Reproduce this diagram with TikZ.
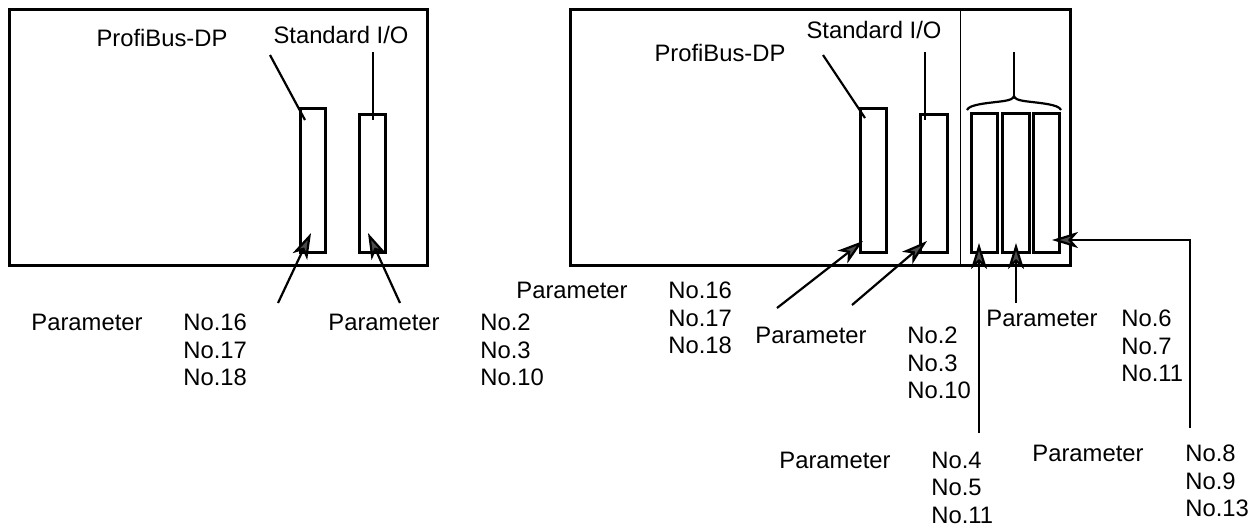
\documentclass[tikz,border=0pt]{standalone}
\usepackage{fontspec}
\setmainfont{Liberation Sans}
\usetikzlibrary{shapes, arrows.meta}
\tikzstyle{frame} = [draw=black, line width=1.5pt]
\tikzstyle{divider} = [draw=black, line width=0.5pt]
\tikzstyle{slot} = [rectangle, draw=black, line width=1.5pt, inner sep=0pt, minimum width=12.5pt]
\tikzstyle{tag} = [inner sep=0pt, font=\fontsize{11.9}{13.75}\selectfont]
\tikzstyle{numlist} = [tag, align=left, anchor=north west]
\tikzstyle{leader} = [line width=1.1pt]
\tikzstyle{edge} = [line width=1.1pt, -{Stealth[length=13pt, width=8pt, inset=3.5pt, fill=black!70]}]

\begin{document}
\begin{tikzpicture}[x=0.5pt, y=-0.5pt]
\useasboundingbox (0,0) rectangle (1258,527);

% left unit
\draw [frame] (9,9) rectangle (427,265);
\node (pbL) [slot, minimum height=72pt] at (312.5,180) {};
\node (ioL) [slot, minimum height=69pt, minimum width=13pt] at (372,183) {};
\node (pbtxtL) [tag] at (162,38) {ProfiBus-DP};
\node (iotxtL) [tag] at (341,35) {Standard I/O};
\node (parL1) [tag] at (87,322) {Parameter};
\node (nosL1) [numlist] at (183,313.6) {No.16\\No.17\\No.18};
\node (parL2) [tag] at (384,322) {Parameter};
\node (nosL2) [numlist] at (480,313.6) {No.2\\No.3\\No.10};

\coordinate (pbfromL) at (270,55);
\coordinate (pbtoL) at (305,120);
\coordinate (iofromL) at (373,52);
\coordinate (iotoL) at (373,120);
\coordinate (tailL1) at (278,303);
\coordinate (tipL1) at (311,233);
\coordinate (tailL2) at (400,303);
\coordinate (tipL2) at (368,233);

\draw [leader] (pbfromL) -- (pbtoL);
\draw [leader] (iofromL) -- (iotoL);
\draw [edge] (tailL1) -- (tipL1);
\draw [edge] (tailL2) -- (tipL2);

% right unit with extension slots
\draw [frame] (570,9) rectangle (1070,265);
\coordinate (divtop) at (960,9);
\coordinate (divbot) at (960,265);
\draw [divider] (divtop) -- (divbot);
\node (pbR) [slot, minimum height=72pt, minimum width=13pt] at (873,180) {};
\node (ioR) [slot, minimum height=69pt, minimum width=13.5pt] at (933.5,183) {};
\node (extA) [slot, minimum height=69.5pt, minimum width=13pt] at (984,182.5) {};
\node (extB) [slot, minimum height=69.5pt, minimum width=13.5pt] at (1015.5,182.5) {};
\node (extC) [slot, minimum height=69.5pt, minimum width=13pt] at (1046,182.5) {};
\node (pbtxtR) [tag] at (720,53) {ProfiBus-DP};
\node (iotxtR) [tag] at (874,30) {Standard I/O};

\node (parR1) [tag] at (572,290) {Parameter};
\node (nosR1) [numlist] at (668,281.6) {No.16\\No.17\\No.18};
\node (parR2) [tag] at (811,335) {Parameter};
\node (nosR2) [numlist] at (907,326.6) {No.2\\No.3\\No.10};
\node (parR3) [tag] at (1042,318) {Parameter};
\node (nosR3) [numlist] at (1121,309.6) {No.6\\No.7\\No.11};
\node (parR4) [tag] at (835,460) {Parameter};
\node (nosR4) [numlist] at (931,451.6) {No.4\\No.5\\No.11};
\node (parR5) [tag] at (1088,453) {Parameter};
\node (nosR5) [numlist] at (1185,444.6) {No.8\\No.9\\No.13};

\coordinate (pbfromR) at (823,55);
\coordinate (pbtoR) at (865,118);
\coordinate (iofromR) at (925,52);
\coordinate (iotoR) at (925,120);
\coordinate (braceL) at (967,110);
\coordinate (braceML) at (1004,101);
\coordinate (bracetip) at (1014,96);
\coordinate (braceMR) at (1024,101);
\coordinate (braceR) at (1061,110);
\coordinate (bracetop) at (1014,52);
\coordinate (tailR1) at (777,308);
\coordinate (tipR1) at (863,241);
\coordinate (tailR2) at (852,305);
\coordinate (tipR2) at (927,241);
\coordinate (tailA) at (979,433);
\coordinate (tipA) at (979,243);
\coordinate (tailB) at (1016,303);
\coordinate (tipB) at (1016,243);
\coordinate (tailC) at (1190,428);
\coordinate (tipC) at (1052,240);

\draw [leader] (pbfromR) -- (pbtoR);
\draw [leader] (iofromR) -- (iotoR);
% brace over the extension slots
\draw [leader] (braceL) .. controls (969,104) and (990,103) .. (braceML)
  .. controls (1010,100) and (1013,99) .. (bracetip)
  .. controls (1015,99) and (1018,100) .. (braceMR)
  .. controls (1038,103) and (1059,104) .. (braceR);
\draw [leader] (bracetip) -- (bracetop);
\draw [edge] (tailR1) -- (tipR1);
\draw [edge] (tailR2) -- (tipR2);
\draw [edge] (tailA) -- (tipA);
\draw [edge] (tailB) -- (tipB);
\draw [edge] (tailC) |- (tipC);

\end{tikzpicture}
\end{document}
